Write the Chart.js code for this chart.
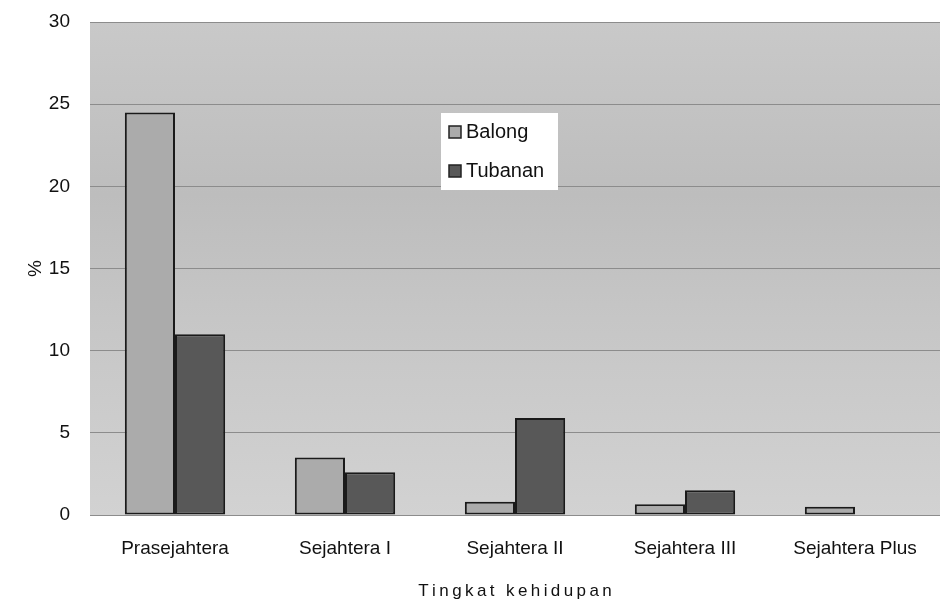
<!DOCTYPE html>
<html>
<head>
<meta charset="utf-8">
<script src="https://cdn.jsdelivr.net/npm/chart.js@4.4.0/dist/chart.umd.min.js"></script>
<style>
  html, body { margin: 0; padding: 0; background: #fff; }
  #wrap { width: 940px; height: 602px; }
</style>
</head>
<body>
<div id="wrap"><canvas id="chart-kehidupan"></canvas></div>
<script>
const categories = ['Prasejahtera', 'Sejahtera I', 'Sejahtera II', 'Sejahtera III', 'Sejahtera Plus'];
const balong = [24.5, 3.5, 0.8, 0.65, 0.5];
const tubanan = [11.0, 2.6, 5.9, 1.5, 0];
const yTicks = [0, 5, 10, 15, 20, 25, 30];

const fontFamily = '"Liberation Sans", Arial, sans-serif';

// grey plot background
const plotBg = {
    id: 'plotBg',
    beforeDraw(chart) {
        const a = chart.chartArea;
        const c = chart.ctx;
        c.save();
        const g = c.createLinearGradient(0, a.top, 0, a.bottom);
        g.addColorStop(0, '#c9c9c9');
        g.addColorStop(0.35, '#bdbdbd');
        g.addColorStop(0.6, '#c6c6c6');
        g.addColorStop(1, '#d2d2d2');
        c.fillStyle = g;
        c.fillRect(a.left, a.top, a.right - a.left, a.bottom - a.top);
        c.restore();
    }
};

// white legend box inside the plot
const boxLegend = {
    id: 'boxLegend',
    afterDraw(chart) {
        const c = chart.ctx;
        const x = 441, y = 113, w = 117, h = 77;
        c.save();
        c.fillStyle = '#ffffff';
        c.fillRect(x, y, w, h);
        c.font = '20px ' + fontFamily;
        c.textBaseline = 'middle';
        chart.data.datasets.forEach((ds, i) => {
            const ry = y + 19 + i * 39;
            c.fillStyle = ds.backgroundColor;
            c.fillRect(x + 8, ry - 6, 12, 12);
            c.strokeStyle = '#222';
            c.lineWidth = 1.5;
            c.strokeRect(x + 8, ry - 6, 12, 12);
            c.fillStyle = '#111';
            c.fillText(ds.label, x + 25, ry);
        });
        c.restore();
    }
};

const ctx = document.getElementById('chart-kehidupan').getContext('2d');
new Chart(ctx, {
    type: 'bar',
    data: {
        labels: categories,
        datasets: [
            {
                label: 'Balong',
                data: balong,
                backgroundColor: '#ababab',
                borderColor: '#1a1a1a',
                borderWidth: 2,
                borderSkipped: false,
                categoryPercentage: 0.59,
                barPercentage: 1.0
            },
            {
                label: 'Tubanan',
                data: tubanan,
                backgroundColor: '#585858',
                borderColor: '#1a1a1a',
                borderWidth: 2,
                borderSkipped: false,
                categoryPercentage: 0.59,
                barPercentage: 1.0
            }
        ]
    },
    options: {
        responsive: true,
        maintainAspectRatio: false,
        animation: false,
        layout: { padding: { top: 22, right: 0, left: 0, bottom: 0 } },
        plugins: {
            legend: { display: false },
            tooltip: { enabled: false }
        },
        scales: {
            x: {
                grid: { display: false, drawTicks: false },
                border: { display: false },
                ticks: {
                    color: '#111',
                    font: { family: fontFamily, size: 19 },
                    padding: 22
                },
                title: {
                    display: true,
                    text: 'T\u2009i\u2009n\u2009g\u2009k\u2009a\u2009t\u2009 \u2009k\u2009e\u2009h\u2009i\u2009d\u2009u\u2009p\u2009a\u2009n',
                    color: '#111',
                    font: { family: fontFamily, size: 17 },
                    padding: { top: 12, bottom: 0 }
                },
                afterFit(scale) { scale.height = 87; }
            },
            y: {
                min: 0,
                max: 30,
                afterBuildTicks(scale) {
                    scale.ticks = yTicks.map(v => ({ value: v }));
                },
                grid: { color: '#8c8c8c', lineWidth: 1, drawTicks: false },
                border: { display: false },
                ticks: {
                    color: '#111',
                    font: { family: fontFamily, size: 19 },
                    padding: 20
                },
                title: {
                    display: true,
                    text: '%',
                    color: '#111',
                    font: { family: fontFamily, size: 19 },
                    padding: { top: 24, bottom: 0 }
                },
                afterFit(scale) {
                    scale.width = 90;
                    scale.paddingTop = 0;
                    scale.paddingBottom = 0;
                }
            }
        }
    },
    plugins: [plotBg, boxLegend]
});
</script>
</body>
</html>
